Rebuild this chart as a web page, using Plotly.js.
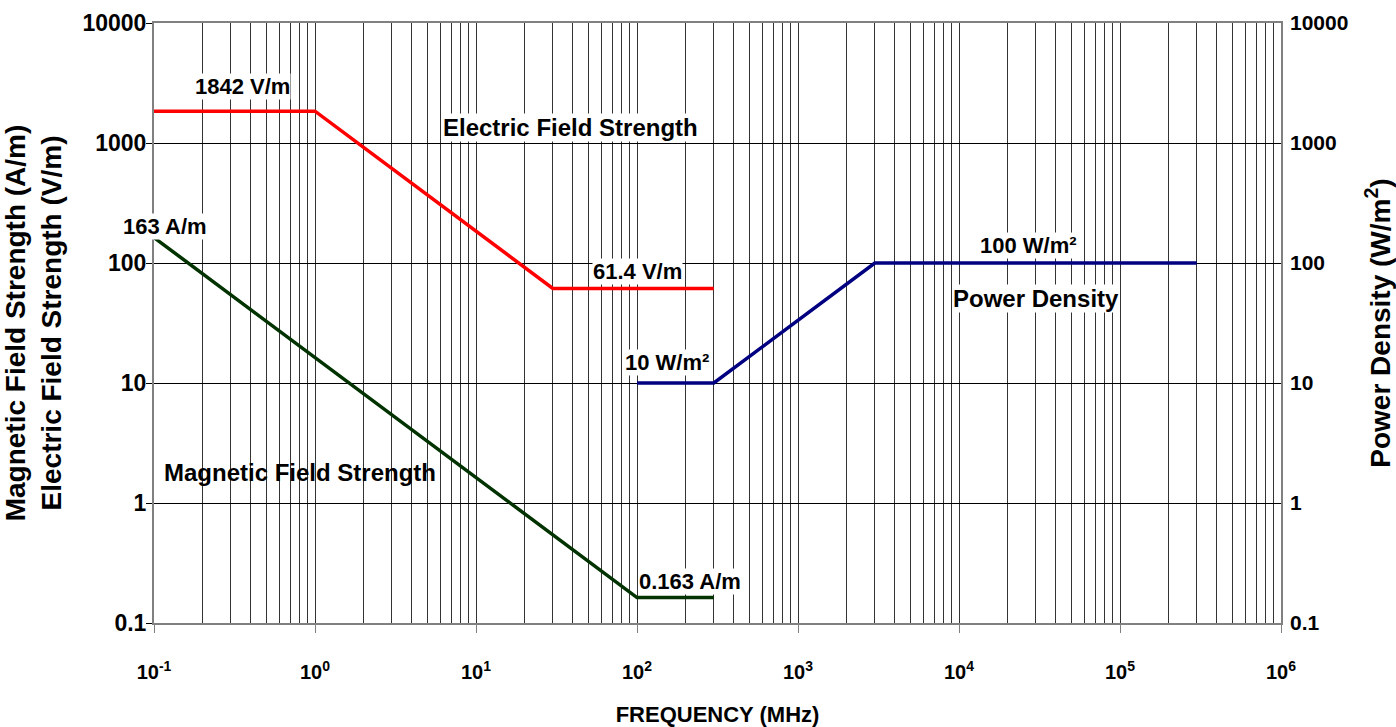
<!DOCTYPE html>
<html>
<head>
<meta charset="utf-8">
<script src="https://cdn.plot.ly/plotly-3.0.1.min.js"></script>
<style>
  html, body { margin: 0; padding: 0; background: #ffffff; }
  #chart { width: 1396px; height: 727px; }
</style>
</head>
<body>
<div id="chart"></div>
<script>
// Exposure limits versus frequency (MHz)
const freqE = [0.1, 1, 30, 300];
const electricField = [1842, 1842, 61.4, 61.4];          // V/m

const freqH = [0.1, 100, 300];
const magneticField = [163, 0.163, 0.163];                // A/m

const freqS = [100, 300, 3000, 300000];
const powerDensity = [10, 10, 100, 100];                  // W/m²

const xTickVals = [0.1, 1, 10, 100, 1000, 10000, 100000, 1000000];
const xTickText = ['10<sup>-1</sup>', '10<sup>0</sup>', '10<sup>1</sup>', '10<sup>2</sup>',
                   '10<sup>3</sup>', '10<sup>4</sup>', '10<sup>5</sup>', '10<sup>6</sup>'];
const yTickVals = [0.1, 1, 10, 100, 1000, 10000];
const yTickText = ['0.1', '1', '10', '100', '1000', '10000'];

const FONT = 'Liberation Sans, Arial, Helvetica, sans-serif';
const bold = (size) => ({ family: FONT, size: size, color: '#000000', weight: 'bold' });

const traces = [
  { x: freqE, y: electricField, type: 'scatter', mode: 'lines',
    line: { color: '#ff0000', width: 3.5 }, name: 'Electric Field Strength',
    xaxis: 'x', yaxis: 'y', hoverinfo: 'x+y' },
  { x: freqH, y: magneticField, type: 'scatter', mode: 'lines',
    line: { color: '#003300', width: 3.5 }, name: 'Magnetic Field Strength',
    xaxis: 'x', yaxis: 'y', hoverinfo: 'x+y' },
  { x: freqS, y: powerDensity, type: 'scatter', mode: 'lines',
    line: { color: '#000080', width: 3.5 }, name: 'Power Density',
    xaxis: 'x', yaxis: 'y2', hoverinfo: 'x+y' }
];

const lg = Math.log10;
function label(text, fx, fy, size, bg) {
  return { text: text, x: lg(fx), y: lg(fy), xref: 'x', yref: 'y',
           showarrow: false, font: bold(size),
           bgcolor: bg === undefined ? '#ffffff' : bg, borderpad: 0 };
}

const annotations = [
  label(electricField[0] + ' V/m', 0.357, 2985, 22),
  label('Electric Field Strength', 38.4, 1334, 24),
  label(magneticField[0] + ' A/m', 0.117, 203, 22),
  label(electricField[2] + ' V/m', 100, 85.7, 22),
  label(powerDensity[0] + ' W/m²', 153, 14.7, 22),
  label(magneticField[1] + ' A/m', 213, 0.22, 22),
  label(powerDensity[2] + ' W/m²', 26850, 141, 22),
  label('Power Density', 30060, 51, 24),
  label('Magnetic Field Strength', 0.807, 1.81, 24, 'rgba(0,0,0,0)')
];

const layout = {
  width: 1396, height: 727,
  margin: { l: 154, r: 115, t: 23, b: 104, pad: 0 },
  paper_bgcolor: '#ffffff', plot_bgcolor: '#ffffff',
  showlegend: false,
  font: { family: FONT },
  xaxis: {
    type: 'log', range: [-1, 6], fixedrange: true,
    tickmode: 'array', tickvals: xTickVals, ticktext: xTickText,
    tickfont: bold(20), ticks: 'outside', ticklen: 8, tickcolor: '#808080', tickwidth: 1,
    ticklabelstandoff: 22,
    showgrid: true, gridcolor: '#333333', gridwidth: 1,
    minor: { dtick: 'D1', showgrid: true, gridcolor: '#333333', gridwidth: 1, ticks: '' },
    showline: true, linecolor: '#808080', linewidth: 2, mirror: true,
    zeroline: false,
    title: { text: 'FREQUENCY (MHz)', font: bold(22), standoff: 26 }
  },
  yaxis: {
    type: 'log', range: [-1, 4], fixedrange: true,
    tickmode: 'array', tickvals: yTickVals, ticktext: yTickText,
    tickfont: bold(23), ticks: 'outside', ticklen: 6, tickcolor: '#000000', tickwidth: 1,
    ticklabelstandoff: -5,
    showgrid: true, gridcolor: '#000000', gridwidth: 1,
    showline: true, linecolor: '#808080', linewidth: 2, mirror: true,
    zeroline: false,
    title: { text: 'Magnetic Field Strength (A/m)<br>Electric Field Strength (V/m)',
             font: bold(28), standoff: 22 }
  },
  yaxis2: {
    type: 'log', range: [-1, 4], fixedrange: true,
    overlaying: 'y', side: 'right', anchor: 'x',
    tickmode: 'array', tickvals: yTickVals, ticktext: yTickText,
    tickfont: bold(21), ticks: '', ticklabelstandoff: 8,
    showgrid: false, showline: false, zeroline: false,
    title: { text: 'Power Density (W/m<sup>2</sup>)', font: bold(28), standoff: 22 }
  },
  annotations: annotations
};

Plotly.newPlot('chart', traces, layout, { displayModeBar: false, staticPlot: true });
</script>
</body>
</html>
